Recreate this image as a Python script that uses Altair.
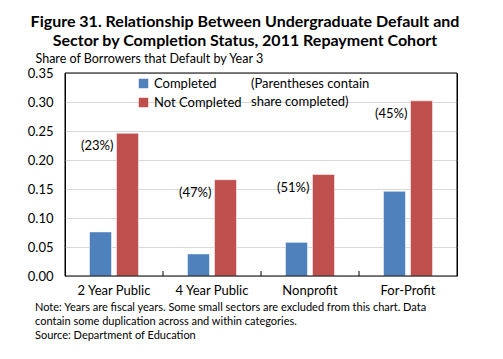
import altair as alt
import pandas as pd

categories = ["2 Year Public", "4 Year Public", "Nonprofit", "For-Profit"]
completed = [0.076, 0.038, 0.058, 0.146]
not_completed = [0.246, 0.166, 0.175, 0.302]
share_completed = ["(23%)", "(47%)", "(51%)", "(45%)"]
series = ["Completed", "Not Completed"]
colors = ["#4F81BD", "#C0504D"]
y_ticks = [0.0, 0.05, 0.10, 0.15, 0.20, 0.25, 0.30, 0.35]
title_lines = ["Figure 31. Relationship Between Undergraduate Default and",
               "Sector by Completion Status, 2011 Repayment Cohort"]
note_lines = ["(Parentheses contain", "share completed)"]
foot_lines = ["Note: Years are fiscal years. Some small sectors are excluded from this chart. Data",
              "contain some duplication across and within categories.",
              "Source: Department of Education"]

FONT = "Lato"

rows = []
for c, a, b in zip(categories, completed, not_completed):
    rows.append({"cat": c, "series": series[0], "value": a})
    rows.append({"cat": c, "series": series[1], "value": b})
df = pd.DataFrame(rows)

lab = pd.DataFrame({"cat": categories, "value": not_completed, "label": share_completed,
                    "series": [series[0]] * 4})
bounds = pd.DataFrame({"cat": categories[1:]})

W, H = 392, 203

xscale = alt.Scale(domain=categories, paddingInner=0, paddingOuter=0)
yscale = alt.Scale(domain=[0, 0.35], nice=False, zero=True)
xoff_scale = alt.Scale(domain=series, paddingInner=0.185, paddingOuter=0.907)

xaxis = alt.Axis(title=None, labelAngle=0, labelFontSize=13, labelFont=FONT,
                 labelColor="#000000", ticks=False, domain=False, grid=False, labelPadding=8)
yaxis = alt.Axis(values=y_ticks, format=".2f", title="Share of Borrowers that Default by Year 3",
                 titleAngle=0, titleX=-30, titleY=-15, titleAlign="left",
                 titleBaseline="middle", titleFont=FONT, titleFontSize=12.5,
                 titleFontWeight="normal", titleColor="#000000",
                 labelFont=FONT, labelFontSize=13, labelColor="#000000",
                 labelOverlap=False, labelFlush=False,
                 labelPadding=12, ticks=False, domain=False,
                 gridColor="#D9D9D9", gridWidth=1)

bars = alt.Chart(df).mark_bar(stroke="white", strokeOpacity=0.5, strokeWidth=1).encode(
    x=alt.X("cat:N", scale=xscale, sort=categories, axis=xaxis),
    xOffset=alt.XOffset("series:N", scale=xoff_scale, sort=series),
    y=alt.Y("value:Q", scale=yscale, axis=yaxis),
    color=alt.Color("series:N", scale=alt.Scale(domain=series, range=colors),
                    legend=alt.Legend(title=None, orient="none", legendX=72, legendY=4,
                                      symbolType="square", symbolSize=90, symbolStrokeWidth=0,
                                      labelFont=FONT, labelFontSize=13, labelColor="#000000",
                                      rowPadding=5, symbolOpacity=1)),
)

labels = alt.Chart(lab).mark_text(align="right", baseline="middle", dx=13, dy=13,
                                  font=FONT, fontSize=13, color="#000000").encode(
    x=alt.X("cat:N", scale=xscale, sort=categories, axis=xaxis),
    xOffset=alt.XOffset("series:N", scale=xoff_scale, sort=series),
    y=alt.Y("value:Q", scale=yscale, axis=yaxis),
    text="label:N",
)

ticks = alt.Chart(bounds).mark_rule(color="#000000", strokeWidth=1).encode(
    x=alt.X("cat:N", scale=xscale, sort=categories, bandPosition=0, axis=xaxis),
    y=alt.value(H - 5),
    y2=alt.value(H),
)

border = alt.Chart(pd.DataFrame({"b": [1]})).mark_rect(
    fill=None, stroke="#000000", strokeWidth=1, filled=False).encode(
    x=alt.value(0), x2=alt.value(W), y=alt.value(0), y2=alt.value(H))

title = alt.Chart(pd.DataFrame({"t": [title_lines]})).mark_text(
    align="center", baseline="middle", font=FONT, fontSize=16, fontWeight="bold",
    color="#000000", lineHeight=19).encode(
    x=alt.value(180), y=alt.value(-51), text="t:N")

note = alt.Chart(pd.DataFrame({"t": [note_lines]})).mark_text(
    align="left", baseline="middle", font=FONT, fontSize=13,
    color="#000000", lineHeight=18).encode(
    x=alt.value(186), y=alt.value(11), text="t:N")

foot = alt.Chart(pd.DataFrame({"t": [foot_lines]})).mark_text(
    align="left", baseline="middle", font=FONT, fontSize=11,
    color="#000000", lineHeight=14).encode(
    x=alt.value(-30), y=alt.value(H + 32), text="t:N")

chart = alt.layer(bars, labels, ticks, border, note, foot, title).properties(
    width=W, height=H,
    autosize=alt.AutoSizeParams(type="none"),
    padding={"left": 57, "top": 65, "right": 38, "bottom": 75},
    background="white",
).configure_view(stroke="#000000", strokeWidth=1)

chart.save("out.html", embed_options={"renderer": "svg", "actions": False})
